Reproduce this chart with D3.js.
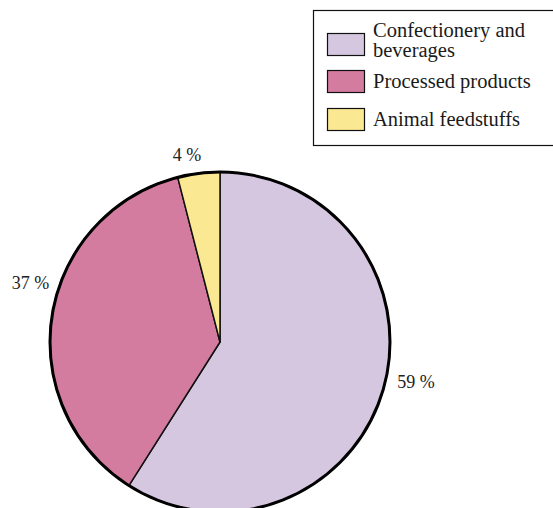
<!DOCTYPE html>
<html>
<head>
<meta charset="utf-8">
<script src="https://cdn.jsdelivr.net/npm/d3@7"></script>
<style>
  html, body { margin: 0; padding: 0; background: #fff; }
  svg { display: block; font-family: "Liberation Serif", "Times New Roman", serif; }
</style>
</head>
<body>
<svg id="chart" width="553" height="508"></svg>
<script>
// Use of cocoa: share by end product
const categories = ["Confectionery and beverages", "Processed products", "Animal feedstuffs"];
const legendLines = [["Confectionery and", "beverages"], ["Processed products"], ["Animal feedstuffs"]];
const shares = [59, 37, 4];
const colors = ["#d5c7e0", "#d47ba0", "#fbe892"];

// Label placement tweaks (px) relative to the slice centroid at label radius
const labelShift = [[4, -14], [8, -26], [-8, 13]];

const svg = d3.select("#chart");
const cx = 220, cy = 342, r = 170;

const pie = d3.pie().sort(null).value(d => d.value);
const arcs = pie(categories.map((c, i) => ({ name: c, value: shares[i], i })));

const arc = d3.arc().innerRadius(0).outerRadius(r);
const labelArc = d3.arc().innerRadius(200).outerRadius(200);

const g = svg.append("g").attr("transform", `translate(${cx},${cy})`);

g.selectAll("path.slice")
  .data(arcs)
  .join("path")
  .attr("class", "slice")
  .attr("d", arc)
  .attr("fill", d => colors[d.data.i])
  .attr("stroke", "#111")
  .attr("stroke-width", 1.5)
  .attr("stroke-linejoin", "round");

// heavier outer rim
g.append("circle")
  .attr("r", r)
  .attr("fill", "none")
  .attr("stroke", "#000")
  .attr("stroke-width", 3);

g.selectAll("text.pct")
  .data(arcs)
  .join("text")
  .attr("class", "pct")
  .attr("x", d => labelArc.centroid(d)[0] + labelShift[d.data.i][0])
  .attr("y", d => labelArc.centroid(d)[1] + labelShift[d.data.i][1])
  .attr("text-anchor", "middle")
  .attr("dominant-baseline", "middle")
  .attr("font-size", 18)
  .attr("fill", "#222")
  .text(d => `${d.data.value} %`);

// Legend
const legend = svg.append("g");
legend.append("rect")
  .attr("x", 313.5).attr("y", 10.5)
  .attr("width", 260).attr("height", 135)
  .attr("fill", "#fff")
  .attr("stroke", "#111")
  .attr("stroke-width", 1.2);

const itemTop = [33, 70, 108];
categories.forEach((c, i) => {
  legend.append("rect")
    .attr("x", 327.5).attr("y", itemTop[i] + 0.5)
    .attr("width", 37).attr("height", 22)
    .attr("fill", colors[i])
    .attr("stroke", "#111")
    .attr("stroke-width", 1.2);
  const t = legend.append("text")
    .attr("x", 373)
    .attr("font-size", 20.5)
    .attr("fill", "#1a1a1a");
  const lines = legendLines[i];
  const firstBase = lines.length > 1 ? itemTop[i] + 4 : itemTop[i] + 18;
  lines.forEach((ln, k) => {
    t.append("tspan").attr("x", 373).attr("y", firstBase + k * 20).text(ln);
  });
});
</script>
</body>
</html>
